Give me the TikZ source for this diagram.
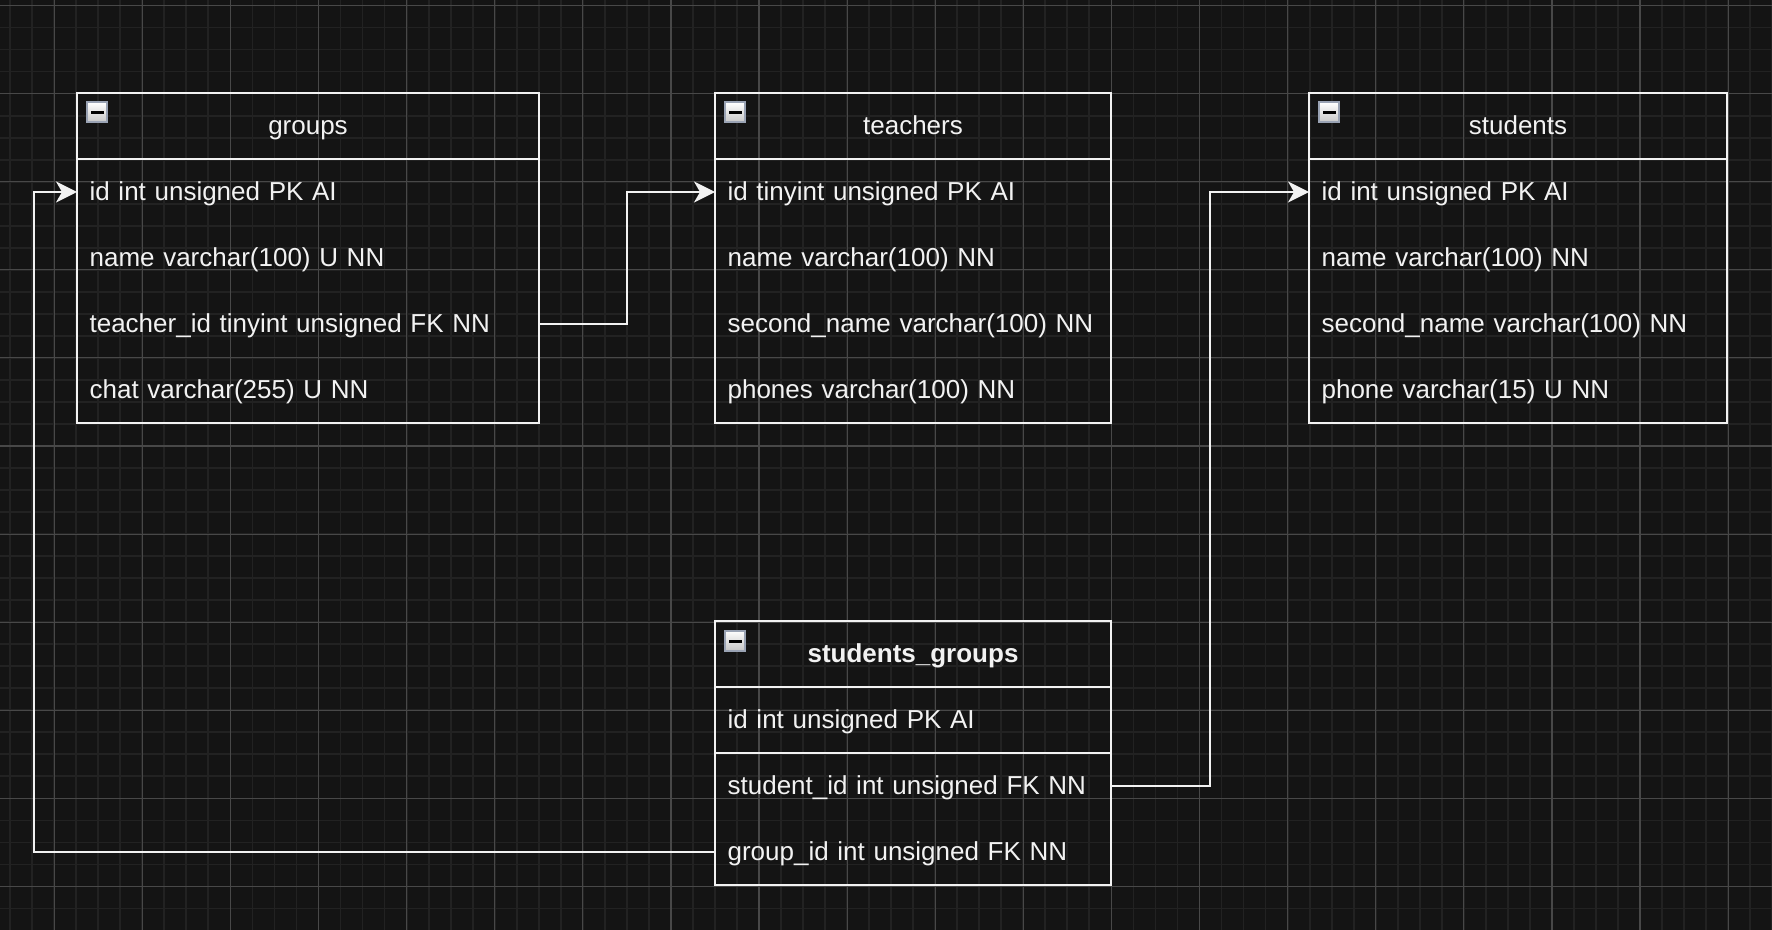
\documentclass[tikz,border=0pt]{standalone}
\usepackage{fontspec}
\setmainfont{Liberation Sans}
\usetikzlibrary{positioning,arrows.meta}
\definecolor{bgcol}{HTML}{141414}
\definecolor{gridminor}{HTML}{222222}
\definecolor{gridmajor}{HTML}{484848}
\definecolor{linecol}{HTML}{F2F2F2}
\definecolor{iconedge}{HTML}{9AA3B4}
\tikzset{
	head/.style={draw=linecol, line width=1.15pt, minimum height=33pt, inner sep=0pt, outer sep=0pt, anchor=north west, text=linecol, text height=10.5pt, text depth=1.6pt, font=\fontsize{13}{16}\selectfont},
	field/.style={minimum height=33pt, inner xsep=6.3pt, inner ysep=0pt, outer sep=0pt, align=left, text=linecol, text height=10.5pt, text depth=1.6pt, font=\fontsize{13}{16}\selectfont},
	box/.style={draw=linecol, line width=1.15pt},
	link/.style={draw=linecol, line width=1pt, -{Stealth[length=10.5pt,width=10.5pt,inset=3pt]}},
}
\begin{document}
\begin{tikzpicture}[x=0.5pt, y=-0.5pt]
		% Background and grid
		\fill[bgcol] (0,0) rectangle (1772,930);
		\useasboundingbox (0,0) rectangle (1772,930);
		\foreach \k in {-2,...,78} \draw[gridminor, line width=0.9pt] ({54.2+22.025*\k},0) -- ++(0,930);
		\foreach \k in {0,...,42} \draw[gridminor, line width=0.9pt] (0,{5.5+22.025*\k}) -- ++(1772,0);
		\foreach \k in {0,...,19} \draw[gridmajor, line width=0.6pt] ({54.2+88.1*\k},0) -- ++(0,930);
		\foreach \k in {0,...,10} \draw[gridmajor, line width=0.6pt] (0,{5.5+88.1*\k}) -- ++(1772,0);
		% Table groups
		\node[head, minimum width=231pt] (groups) at (77,93) {groups};
		\node[field, text width=218.4pt, below=0pt of groups] (groups-id) {id int unsigned PK AI};
		\node[field, text width=218.4pt, below=0pt of groups-id] (groups-name) {name varchar(100) U NN};
		\node[field, text width=218.4pt, below=0pt of groups-name] (groups-tid) {teacher\_id tinyint unsigned FK NN};
		\node[field, text width=218.4pt, below=0pt of groups-tid] (groups-chat) {chat varchar(255) U NN};
		\draw[box] (groups-id.north west) rectangle (groups-chat.south east);
		% Table teachers
		\node[head, minimum width=198pt] (teachers) at (715,93) {teachers};
		\node[field, text width=185.4pt, below=0pt of teachers] (teachers-id) {id tinyint unsigned PK AI};
		\node[field, text width=185.4pt, below=0pt of teachers-id] (teachers-name) {name varchar(100) NN};
		\node[field, text width=185.4pt, below=0pt of teachers-name] (teachers-sname) {second\_name varchar(100) NN};
		\node[field, text width=185.4pt, below=0pt of teachers-sname] (teachers-phones) {phones varchar(100) NN};
		\draw[box] (teachers-id.north west) rectangle (teachers-phones.south east);
		% Table students
		\node[head, minimum width=209pt] (students) at (1309,93) {students};
		\node[field, text width=196.4pt, below=0pt of students] (students-id) {id int unsigned PK AI};
		\node[field, text width=196.4pt, below=0pt of students-id] (students-name) {name varchar(100) NN};
		\node[field, text width=196.4pt, below=0pt of students-name] (students-sname) {second\_name varchar(100) NN};
		\node[field, text width=196.4pt, below=0pt of students-sname] (students-phone) {phone varchar(15) U NN};
		\draw[box] (students-id.north west) rectangle (students-phone.south east);
		% Table students_groups
		\node[head, minimum width=198pt, font=\fontsize{13}{16}\selectfont\bfseries] (sg) at (715,621) {students\_groups};
		\node[field, text width=185.4pt, below=0pt of sg] (sg-id) {id int unsigned PK AI};
		\node[field, text width=185.4pt, below=0pt of sg-id] (sg-sid) {student\_id int unsigned FK NN};
		\node[field, text width=185.4pt, below=0pt of sg-sid] (sg-gid) {group\_id int unsigned FK NN};
		\draw[box] (sg-id.north west) rectangle (sg-gid.south east);
		\draw[box] (sg-id.south west) -- (sg-id.south east);
		% Collapse icons
		\foreach \t in {groups,teachers,students,sg} {
			\shade[top color=white, bottom color=gray!45, draw=iconedge, line width=1pt] ([shift={(10,9.5)}]\t.north west) rectangle ++(20,20);
			\fill[black] ([shift={(13.5,18.5)}]\t.north west) rectangle ++(13,3);
		}
		% Foreign keys
		\draw[link] (groups-tid.east) -- ++(88,0) |- (teachers-id.west);
		\draw[link] (sg-sid.east) -- ++(99,0) |- (students-id.west);
		\draw[link] (sg-gid.west) -- ++(-681,0) |- (groups-id.west);
\end{tikzpicture}
\end{document}
